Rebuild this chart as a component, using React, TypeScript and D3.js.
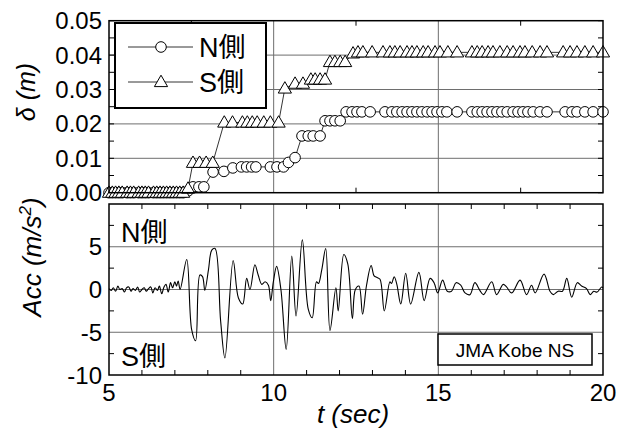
import React from "react";
import * as d3 from "d3";

// N側 (circles): time [s] and displacement [m]
const tN = [
  5.0, 5.1, 5.2, 5.3, 5.4, 5.55, 5.65, 5.75, 5.9, 6.0, 6.1, 6.2, 6.35, 6.45, 6.55, 6.65, 6.75, 6.85, 6.95, 7.05, 7.15, 7.25, 7.4,
  7.55, 7.73, 7.88, 8.16, 8.49, 8.76, 9.02, 9.18, 9.33, 9.46, 9.9, 10.1, 10.3, 10.45, 10.65,
  10.86, 11.05, 11.2, 11.41, 11.56, 11.71, 11.86, 12.02,
  12.2, 12.38, 12.53, 12.68, 12.93, 13.38, 13.59, 13.74, 13.9, 14.05, 14.2, 14.35, 14.5, 14.66, 14.81, 14.96, 15.11, 15.26, 15.57,
  16.02, 16.18, 16.33, 16.48, 16.63, 16.78, 16.93, 17.09, 17.27, 17.42, 17.57, 17.72, 17.88, 18.09, 18.3,
  18.85, 19.06, 19.21, 19.45, 19.7, 20.0,
];
const dN = [
  0, 0, 0, 0, 0, 0, 0, 0, 0, 0, 0, 0, 0, 0, 0, 0, 0, 0, 0, 0, 0, 0, 0.0005,
  0.0017, 0.0017, 0.0017, 0.006, 0.0062, 0.0072, 0.0075, 0.0075, 0.0075, 0.0075, 0.0075, 0.0075, 0.0075, 0.0088, 0.0102,
  0.0165, 0.0165, 0.0165, 0.0165, 0.0209, 0.0209, 0.0209, 0.0209,
  0.0235, 0.0235, 0.0235, 0.0235, 0.0235, 0.0235, 0.0235, 0.0235, 0.0235, 0.0235, 0.0235, 0.0235, 0.0235, 0.0235, 0.0235, 0.0235, 0.0235, 0.0235, 0.0235,
  0.0235, 0.0235, 0.0235, 0.0235, 0.0235, 0.0235, 0.0235, 0.0235, 0.0235, 0.0235, 0.0235, 0.0235, 0.0235, 0.0235, 0.0235,
  0.0235, 0.0235, 0.0235, 0.0235, 0.0235, 0.0235,
];

// S側 (triangles)
const tS = [
  5.0, 5.1, 5.2, 5.3, 5.4, 5.55, 5.65, 5.75, 5.9, 6.0, 6.1, 6.2, 6.35, 6.45, 6.55, 6.65, 6.75, 6.85, 6.95, 7.05, 7.15, 7.25, 7.4,
  7.55, 7.75, 7.95, 8.15, 8.5, 8.75, 9.05, 9.2, 9.35, 9.5, 9.7, 9.9, 10.15,
  10.34, 10.65, 10.89, 11.13, 11.26, 11.41, 11.56, 11.71, 11.86, 12.02, 12.17,
  12.41, 12.56, 12.71, 12.99, 13.32, 13.53, 13.68, 13.84, 14.05, 14.2, 14.35, 14.54, 14.69, 14.9, 15.05, 15.29, 15.57,
  16.02, 16.18, 16.33, 16.51, 16.66, 16.87, 17.09, 17.27, 17.48, 17.63, 17.85, 18.09, 18.3,
  18.79, 19.0, 19.21, 19.45, 19.7, 20.0,
];
const dS = [
  0, 0, 0, 0, 0, 0, 0, 0, 0, 0, 0, 0, 0, 0, 0, 0, 0, 0, 0, 0, 0, 0, 0.0012,
  0.0087, 0.0087, 0.0087, 0.0087, 0.0204, 0.0204, 0.0204, 0.0204, 0.0204, 0.0204, 0.0204, 0.0204, 0.0204,
  0.0303, 0.0317, 0.0317, 0.0329, 0.0329, 0.0329, 0.0329, 0.038, 0.038, 0.038, 0.038,
  0.0405, 0.0408, 0.0408, 0.0408, 0.0408, 0.0408, 0.0408, 0.0408, 0.0408, 0.0408, 0.0408, 0.0408, 0.0408, 0.0408, 0.0408, 0.0408, 0.0408,
  0.0408, 0.0408, 0.0408, 0.0408, 0.0408, 0.0408, 0.0408, 0.0408, 0.0408, 0.0408, 0.0408, 0.0408, 0.0408,
  0.0408, 0.0408, 0.0408, 0.0408, 0.0408, 0.0408,
];

// JMA Kobe NS acceleration [m/s^2]
const accT = [
  5.0, 5.07, 5.13, 5.2, 5.27, 5.33, 5.4, 5.47, 5.53, 5.6, 5.67, 5.73, 5.8, 5.87, 5.93, 6.0, 6.07, 6.13, 6.2, 6.27,
  6.33, 6.4, 6.47, 6.53, 6.6, 6.67, 6.73, 6.8, 6.87, 6.93, 7.0, 7.05, 7.1, 7.16,
  7.36, 7.51, 7.63, 7.76, 7.84, 7.91, 8.02, 8.12, 8.22, 8.39, 8.52, 8.77, 8.93, 9.06, 9.18, 9.28, 9.43, 9.53, 9.64,
  9.74, 9.84, 9.91, 9.99, 10.09, 10.22, 10.38, 10.55, 10.68, 10.87, 11.05, 11.17, 11.3, 11.36, 11.46, 11.58, 11.71,
  11.89, 11.96, 12.13, 12.25, 12.39, 12.48, 12.59, 12.7, 12.82, 12.96, 13.05, 13.14, 13.23, 13.36, 13.53, 13.58,
  13.66, 13.74, 13.86, 14.01, 14.16, 14.41, 14.57, 14.75, 14.87, 14.98, 15.13, 15.27, 15.4, 15.54, 15.68, 15.81,
  15.96, 16.11, 16.26, 16.37, 16.62, 16.77, 16.97, 17.07, 17.23, 17.48, 17.68, 17.83, 17.94, 18.21, 18.39, 18.49,
  18.64, 18.77, 18.9, 19.05, 19.22, 19.35, 19.5, 19.61, 19.72, 19.82, 19.96, 20.0,
];
const accV = [
  0.1, -0.1, 0.2, -0.2, 0.4, 0, 0.1, -0.3, 0.2, 0.3, -0.2, 0.1, -0.1, 0.3, -0.3, 0, 0.2, -0.2, 0.1, 0.3,
  -0.4, 0.2, -0.1, 0.4, -0.5, 0.3, 0.6, -0.3, 0.8, 0.2, 0.9, 0.4, 1.0, 0,
  3.5, -4.7, -6.0, 1.7, 1.5, -0.1, 2.3, 4.6, 4.8, -3.7, -8.0, 3.4, -1.0, -1.7, 1.3, 0.0, 2.9, 1.7, 0.6,
  0.9, 0.5, -1.3, 0.9, 2.7, 0.0, -7.0, 3.9, -3.1, 5.8, -2.3, -3.3, 0.9, 0.7, 2.3, 4.8, -4.8,
  0.2, -2.5, 4.1, 3.0, -3.4, 0.0, 0.4, -2.9, 0.5, 2.8, 1.6, 1.4, 1.2, -2.5, 0.9, 0.7,
  1.5, 0.6, -1.7, 1.9, -1.7, 2.0, -1.3, 1.3, 0.8, -0.4, 1.1, -0.2, -0.2, 0.8, 0.5, -0.4,
  -0.6, 0.8, -0.1, -0.6, 0.9, -0.6, 0.6, 0.3, -0.4, 1.1, -0.6, 0.5, -0.4, 1.8, -0.2, -0.6,
  -0.2, -0.2, 1.3, -0.9, 0.8, 0.4, 0.1, -0.6, -0.2, -0.3, 0.3, 0.2,
];

const topTicks = [0, 0.01, 0.02, 0.03, 0.04, 0.05];
const botTicks = [-10, -5, 0, 5];
const xTicks = [5, 10, 15, 20];

const FONT = "'Liberation Sans', Arial, 'Noto Sans CJK JP', sans-serif";

const triPath = "M0,-6.8L6.6,4.6L-6.6,4.6Z";

export default function App() {
  const left = 109;
  const right = 603;
  const top1 = 20.7;
  const bot1 = 192.7;
  const top2 = 204;
  const bot2 = 375;

  const x = d3.scaleLinear().domain([5, 20]).range([left, right]);
  const yTop = d3.scaleLinear().domain([0, 0.05]).range([bot1, top1]);
  const yBot = d3.scaleLinear().domain([-10, 10]).range([bot2, top2]);

  const nPts = tN.map((t, i) => [t, dN[i]] as [number, number]);
  const sPts = tS.map((t, i) => [t, dS[i]] as [number, number]);
  const aPts = accT.map((t, i) => [t, accV[i]] as [number, number]);

  const dispLine = d3
    .line<[number, number]>()
    .x((d) => x(d[0]))
    .y((d) => yTop(d[1]));
  const accLine = d3
    .line<[number, number]>()
    .x((d) => x(d[0]))
    .y((d) => yBot(d[1]))
    .curve(d3.curveCatmullRom.alpha(0.5));

  const grid = "#6e6e6e";
  const tl = 5;

  // minor ticks
  const topXMinor = [7.5, 12.5, 17.5];
  const topYMinor = [0.005, 0.015, 0.025, 0.035, 0.045];
  const botXMinor = d3.range(6, 20).filter((v) => v % 5 !== 0);
  const botYMinor = [-7.5, -2.5, 2.5, 7.5];

  return (
    <svg
      width={625}
      height={431}
      style={{ position: "fixed", left: 0, top: 0, background: "#fff" }}
      fontFamily={FONT}
    >
      {/* grid */}
      <g stroke={grid} strokeWidth={1}>
        {[0.01, 0.02, 0.03, 0.04].map((v) => (
          <line key={v} x1={left} x2={right} y1={yTop(v)} y2={yTop(v)} />
        ))}
        {[10, 15].map((v) => (
          <line key={v} x1={x(v)} x2={x(v)} y1={top1} y2={bot1} />
        ))}
        {[-5, 0, 5].map((v) => (
          <line key={v} x1={left} x2={right} y1={yBot(v)} y2={yBot(v)} />
        ))}
        {[10, 15].map((v) => (
          <line key={"b" + v} x1={x(v)} x2={x(v)} y1={top2} y2={bot2} />
        ))}
      </g>

      {/* ticks */}
      <g stroke="#000" strokeWidth={1}>
        {topXMinor.map((v) => (
          <g key={v}>
            <line x1={x(v)} x2={x(v)} y1={top1} y2={top1 + tl} />
            <line x1={x(v)} x2={x(v)} y1={bot1} y2={bot1 - tl} />
          </g>
        ))}
        {topYMinor.concat(topTicks).map((v) => (
          <g key={v}>
            <line x1={left} x2={left + tl} y1={yTop(v)} y2={yTop(v)} />
            <line x1={right} x2={right - tl} y1={yTop(v)} y2={yTop(v)} />
          </g>
        ))}
        {botXMinor.map((v) => (
          <g key={v}>
            <line x1={x(v)} x2={x(v)} y1={top2} y2={top2 + tl} />
            <line x1={x(v)} x2={x(v)} y1={bot2} y2={bot2 - tl} />
          </g>
        ))}
        {botYMinor.map((v) => (
          <g key={v}>
            <line x1={left} x2={left + tl} y1={yBot(v)} y2={yBot(v)} />
            <line x1={right} x2={right - tl} y1={yBot(v)} y2={yBot(v)} />
          </g>
        ))}
      </g>

      {/* displacement series */}
      <path d={dispLine(nPts) ?? ""} fill="none" stroke="#000" strokeWidth={0.8} />
      {nPts.map((d, i) => (
        <circle key={i} cx={x(d[0])} cy={yTop(d[1])} r={5.3} fill="#fff" stroke="#000" strokeWidth={1} />
      ))}
      <path d={dispLine(sPts) ?? ""} fill="none" stroke="#000" strokeWidth={0.8} />
      {sPts.map((d, i) => (
        <path
          key={i}
          d={triPath}
          transform={`translate(${x(d[0])},${yTop(d[1])})`}
          fill="#fff"
          stroke="#000"
          strokeWidth={1}
        />
      ))}

      {/* acceleration */}
      <path d={accLine(aPts) ?? ""} fill="none" stroke="#000" strokeWidth={1.1} />

      {/* frames */}
      <rect x={left} y={top1} width={right - left} height={bot1 - top1} fill="none" stroke="#000" strokeWidth={1.5} />
      <rect x={left} y={top2} width={right - left} height={bot2 - top2} fill="none" stroke="#000" strokeWidth={1.5} />

      {/* legend */}
      <rect x={115} y={23} width={151} height={85} fill="#fff" stroke="#000" strokeWidth={2} />
      <line x1={128} x2={193} y1={47} y2={47} stroke="#000" strokeWidth={0.8} />
      <circle cx={161} cy={47} r={5.3} fill="#fff" stroke="#000" />
      <text x={199} y={57} fontSize={27}>N側</text>
      <line x1={128} x2={193} y1={82} y2={82} stroke="#000" strokeWidth={0.8} />
      <path d={triPath} transform="translate(161,82)" fill="#fff" stroke="#000" />
      <text x={199} y={92} fontSize={27}>S側</text>

      {/* annotations bottom panel */}
      <text x={121} y={242} fontSize={27}>N側</text>
      <text x={121} y={366} fontSize={27}>S側</text>
      <rect x={438} y={334} width={154} height={31} fill="#fff" stroke="#000" strokeWidth={1.5} />
      <text x={515} y={357} fontSize={19} textAnchor="middle">JMA Kobe NS</text>

      {/* y tick labels */}
      {topTicks.map((v) => (
        <text key={v} x={102} y={yTop(v) + 8.5} fontSize={24} textAnchor="end">
          {v.toFixed(2)}
        </text>
      ))}
      {botTicks.map((v) => (
        <text key={v} x={102} y={yBot(v) + 8.5} fontSize={24} textAnchor="end">
          {v}
        </text>
      ))}
      {/* x tick labels */}
      {xTicks.map((v) => (
        <text key={v} x={x(v)} y={401} fontSize={24} textAnchor="middle">
          {v}
        </text>
      ))}

      {/* axis titles */}
      <text x={353} y={423} fontSize={26} fontStyle="italic" textAnchor="middle">
        t (sec)
      </text>
      <text
        transform="translate(35,92) rotate(-90)"
        fontSize={25}
        fontStyle="italic"
        textAnchor="middle"
      >
        δ (m)
      </text>
      <text
        transform="translate(41,257) rotate(-90)"
        fontSize={26}
        fontStyle="italic"
        textAnchor="middle"
      >
        Acc (m/s<tspan dy={-10} fontSize={17}>2</tspan>
        <tspan dy={10}>)</tspan>
      </text>
    </svg>
  );
}
